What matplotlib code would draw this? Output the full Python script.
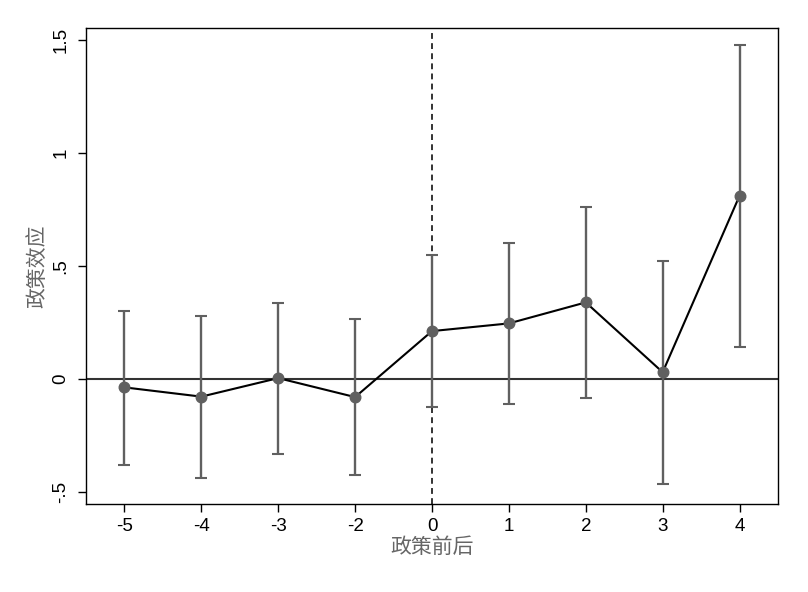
import matplotlib
matplotlib.use("Agg")
import matplotlib.pyplot as plt
import numpy as np

# Data
tick_labels = ["-5", "-4", "-3", "-2", "0", "1", "2", "3", "4"]
coef = [-0.037, -0.078, 0.004, -0.080, 0.212, 0.246, 0.339, 0.030, 0.811]
ci_upper = [0.301, 0.280, 0.336, 0.265, 0.550, 0.602, 0.761, 0.523, 1.479]
ci_lower = [-0.379, -0.438, -0.330, -0.423, -0.124, -0.111, -0.083, -0.463, 0.143]
y_ticks = [-0.5, 0, 0.5, 1, 1.5]
y_tick_labels = ["-.5", "0", ".5", "1", "1.5"]
policy_label = "0"

plt.rcParams['font.family'] = ['Liberation Sans', 'DejaVu Sans']

fig = plt.figure(figsize=(8.08, 5.92), dpi=100)
ax = fig.add_axes([86/808, 88/592, (778-86)/808, (504-28)/592])

x = np.arange(len(tick_labels))
coef = np.array(coef)
up = np.array(ci_upper)
lo = np.array(ci_lower)

ax.axhline(0, color="#333333", lw=1.5, zorder=1)
ax.axvline(tick_labels.index(policy_label), color="#333333", lw=1.4,
           linestyle=(0, (3, 2.2)), zorder=1)

ax.errorbar(x, coef, yerr=[coef - lo, up - coef], fmt="none",
            ecolor="#606060", elinewidth=1.7, capsize=4.2, capthick=1.5, zorder=2)
ax.plot(x, coef, color="black", lw=1.5, zorder=3)
ax.plot(x, coef, linestyle="none", marker="o", markersize=7.6,
        color="#606060", zorder=4)

ax.set_xlim(-0.5, 8.5)
ax.set_ylim(-0.553, 1.553)
ax.set_xticks(x)
ax.set_xticklabels(tick_labels, fontsize=13.5)
ax.set_yticks(y_ticks)
ax.set_yticklabels(y_tick_labels, fontsize=13.5, rotation=90, va="center")

ax.tick_params(axis="both", length=5.8, width=1, color="black")
ax.tick_params(axis="x", pad=4)
ax.tick_params(axis="y", pad=6)
for s in ax.spines.values():
    s.set_linewidth(1.0)
    s.set_color("black")

cjk = ['Noto Sans CJK SC', 'DejaVu Sans']
ax.set_xlabel("政策前后", family=cjk, fontsize=15, color="#666666", labelpad=1)
ax.set_ylabel("政策效应", family=cjk, fontsize=15, color="#666666", labelpad=3)

fig.savefig("out.png", dpi=100, facecolor="white")
